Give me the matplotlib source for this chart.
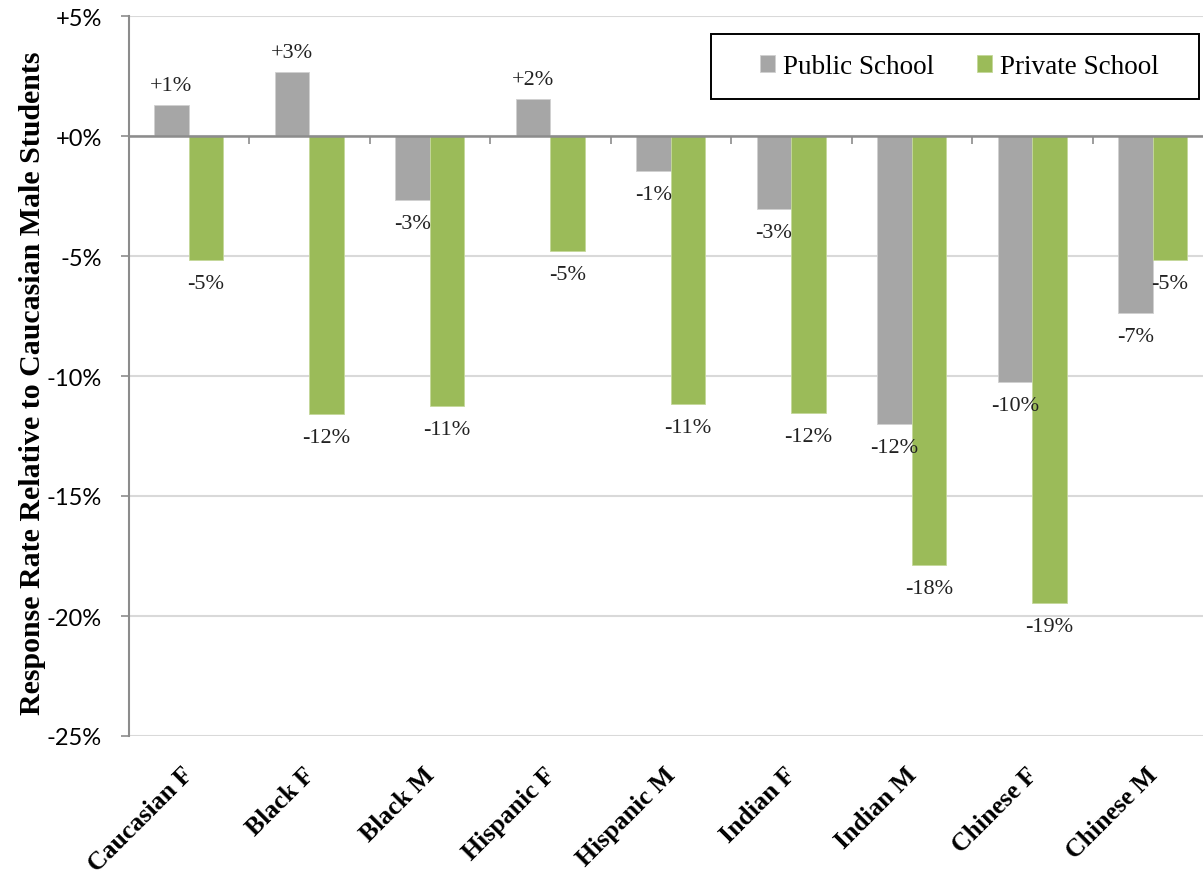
import matplotlib
matplotlib.use("Agg")
import matplotlib.pyplot as plt
from matplotlib.patches import Rectangle
import matplotlib.transforms as mtransforms
import numpy as np
from matplotlib.ticker import FuncFormatter, MultipleLocator

categories = ["Caucasian F", "Black F", "Black M", "Hispanic F", "Hispanic M",
              "Indian F", "Indian M", "Chinese F", "Chinese M"]
public_school = [1.29, 2.67, -2.67, 1.54, -1.45, -3.04, -12.0, -10.25, -7.38]
private_school = [-5.17, -11.58, -11.25, -4.79, -11.17, -11.54, -17.88, -19.46, -5.17]
series_names = ["Public School", "Private School"]

GRAY = "#A6A6A6"
GREEN = "#9BBB59"
SERIF = "Liberation Serif"
SANS = "Lato"

W, H = 1203, 878
fig = plt.figure(figsize=(W / 100, H / 100), dpi=100)
ax = fig.add_axes([128.5 / W, 1 - 737 / H, (1213 - 128.5) / W, 720 / H])

x = np.arange(len(categories))
w = 0.287
b1 = ax.bar(x - w / 2, public_school, w, color=GRAY, edgecolor="#D0D0D0",
            linewidth=0.6, label=series_names[0], zorder=3)
b2 = ax.bar(x + w / 2, private_school, w, color=GREEN, edgecolor="#C4D89A",
            linewidth=0.6, label=series_names[1], zorder=3)

# value labels above positive bars, below negative ones
for bars, vals in ((b1, public_school), (b2, private_school)):
    for rect, v in zip(bars, vals):
        cx = rect.get_x() + rect.get_width() / 2
        ax.annotate(f"{v:+.0f}%", (cx, v), xytext=(0, 7 if v >= 0 else -10),
                    textcoords="offset points", ha="center",
                    va="bottom" if v >= 0 else "top",
                    fontsize=16, family=SERIF, color="#222222", zorder=5)

ax.set_xlim(-0.5, len(categories) - 0.5)
ax.set_ylim(-25, 5)
ax.yaxis.set_major_locator(MultipleLocator(5))
ax.yaxis.set_major_formatter(FuncFormatter(lambda v, p: f"{v:+.0f}%"))
ax.grid(axis="y", color="#D9D9D9", linewidth=1.5, zorder=0)
ax.set_axisbelow(True)

for s in ("top", "right", "bottom"):
    ax.spines[s].set_visible(False)
ax.spines["left"].set_color("#8C8C8C")
ax.spines["left"].set_linewidth(1.5)

ax.tick_params(axis="y", length=6, width=1.2, color="#8C8C8C", pad=13,
               labelsize=17)
for t in ax.get_yticklabels():
    t.set_family(SANS)

# zero axis with category-boundary tick marks
ax.axhline(0, color="#8C8C8C", linewidth=1.8, zorder=4)
bounds = np.arange(len(categories) + 1) - 0.5
ax.vlines(bounds[1:], -0.33, 0, color="#8C8C8C", linewidth=1.2, zorder=4)

ax.set_xticks(x)
ax.set_xticklabels(categories, rotation=45, ha="right", va="top",
                   rotation_mode="anchor", fontsize=18.5, fontweight="bold",
                   family=SERIF)
ax.tick_params(axis="x", length=0, pad=19)
shift = mtransforms.ScaledTranslation(-7 / 100, 0, fig.dpi_scale_trans)
for t in ax.get_xticklabels():
    t.set_transform(t.get_transform() + shift)

ax.set_ylabel("Response Rate Relative to Caucasian Male Students",
              fontsize=21.5, fontweight="bold", family=SERIF)
ax.yaxis.set_label_coords(-0.076, 0.492)

# legend inside a framed box
frame = Rectangle((711 / W, 1 - 100 / H), 488 / W, 65 / H, transform=fig.transFigure,
                  facecolor="white", edgecolor="black", linewidth=1.4, zorder=6)
fig.add_artist(frame)
leg = fig.legend(handles=[b1, b2], labels=series_names, loc="center",
                 bbox_to_anchor=(959.5 / W, 1 - 67.5 / H), ncol=2, frameon=False,
                 prop={"family": SERIF, "size": 19.5},
                 handlelength=0.55, handleheight=0.55, handletextpad=0.3,
                 columnspacing=1.6, borderpad=0)
leg.set_zorder(7)

fig.savefig("out.png", dpi=100)
